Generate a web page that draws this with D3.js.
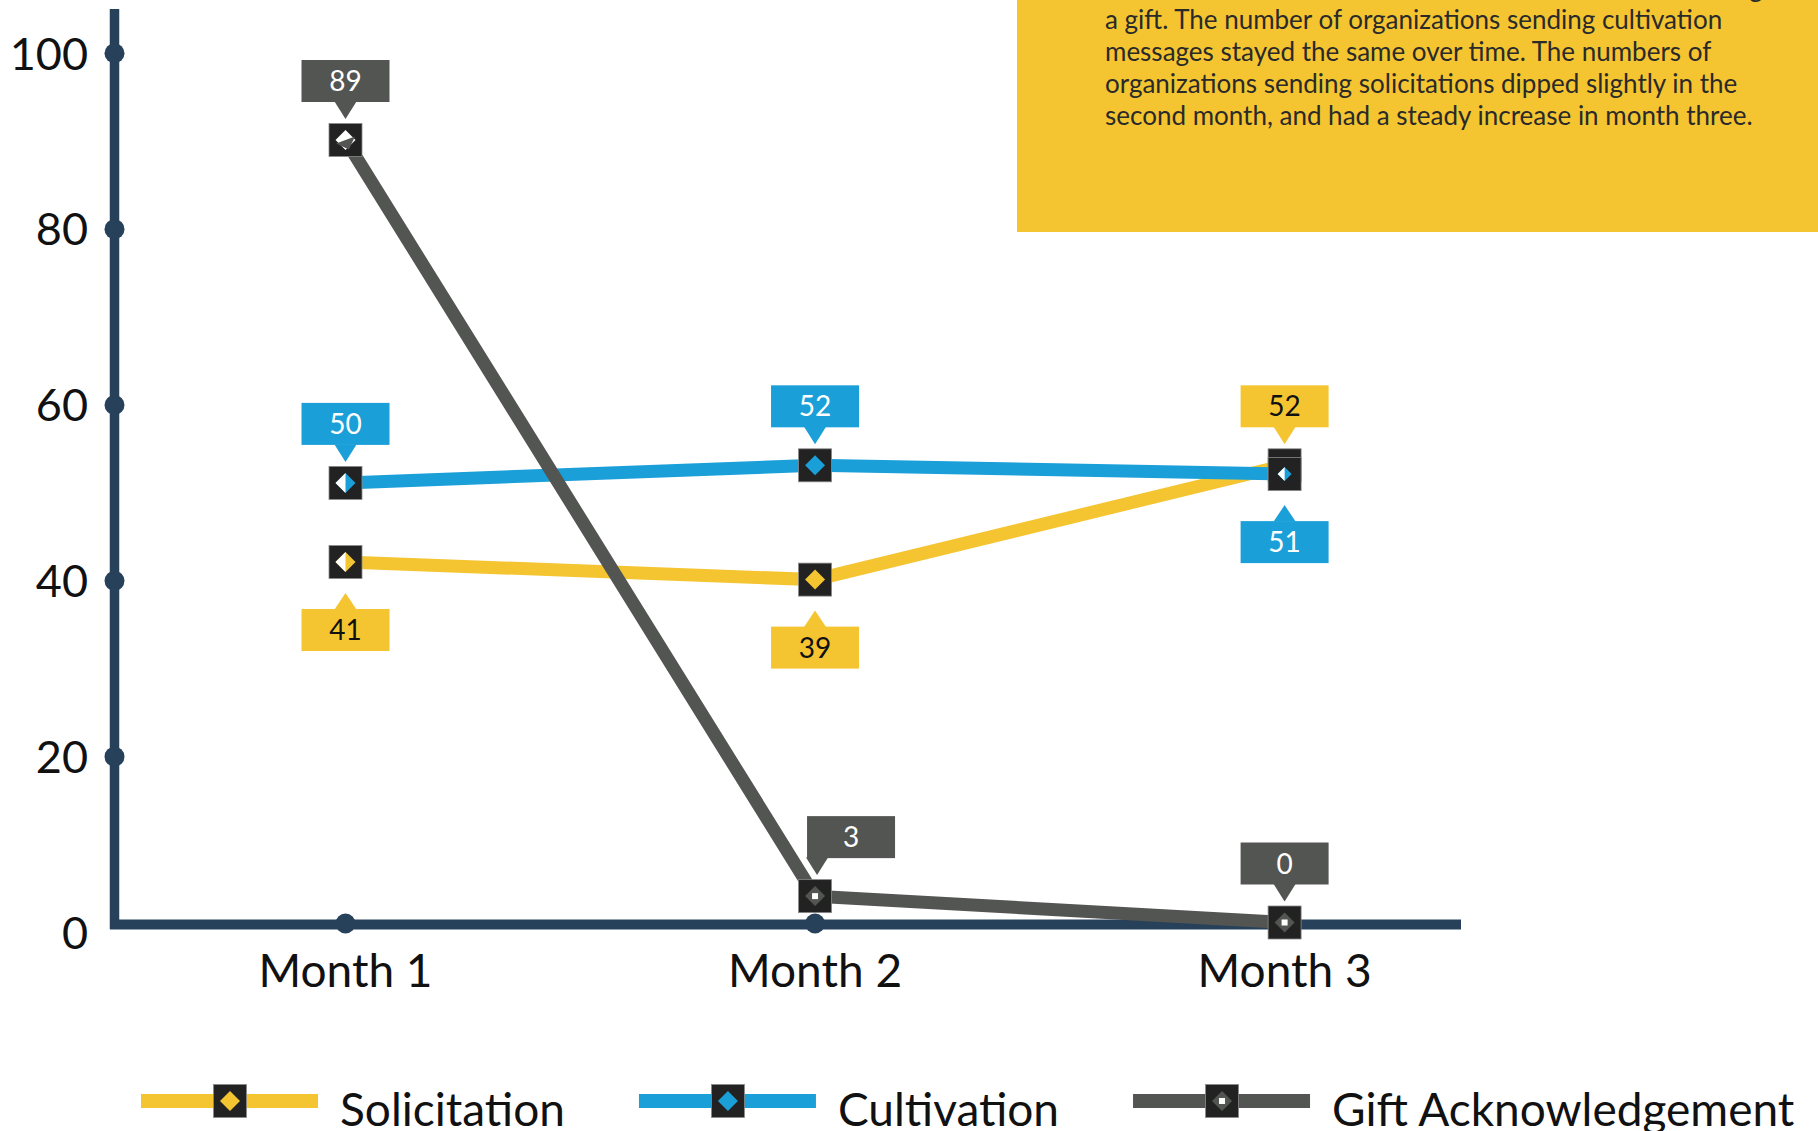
<!DOCTYPE html>
<meta charset="utf-8">
<style>
body { margin: 0; background: #fff; font-family: 'Lato', sans-serif; }
svg { display: block; }
.tick-label { font-size: 45px; fill: #111; }
.month-label { font-size: 46px; fill: #111; }
.callout text { font-size: 28px; }
.legend text { font-size: 46px; fill: #111; }
.note text { font-size: 26px; fill: #2a2a2a; }
</style>
<body>
<svg width="1818" height="1131"></svg>
<script src="https://d3js.org/d3.v7.min.js"></script>
<script>

var months = ["Month 1", "Month 2", "Month 3"];
var seriesNames = ["Solicitation", "Cultivation", "Gift Acknowledgement"];
var solicitation = [41, 39, 52];
var cultivation = [50, 52, 51];
var giftAck = [89, 3, 0];
var yTicks = [0, 20, 40, 60, 80, 100];
var colors = ["#f4c531", "#1a9fd8", "#535552"];
// where the value callout sits for each point
var labelSide = [["below", "below", "above"], ["above", "above", "below"], ["above", "above", "above"]];
var labelShift = [[0, 0, 0], [0, 0, 0], [0, 1, 0]];
var noteLines = [
  "Fewer charities thanked donors as fewer were still making",
  "a gift. The number of organizations sending cultivation",
  "messages stayed the same over time. The numbers of",
  "organizations sending solicitations dipped slightly in the",
  "second month, and had a steady increase in month three."
];

var series = [solicitation, cultivation, giftAck];
var axisColor = "#27415a";
var markColor = "#222222";
var dataShift = -10;

var svg = d3.select("svg");

var y = d3.scaleLinear().domain([0, 100]).range([932.5, 53.3]);
var x = d3.scalePoint().domain(months).range([345.5, 1284.6]);

// yellow note box
var note = svg.append("g").attr("class", "note");
note.append("rect")
  .attr("x", 1017).attr("y", 0)
  .attr("width", 801).attr("height", 232)
  .attr("fill", "#f4c531");
note.selectAll("text")
  .data(noteLines)
  .enter().append("text")
  .attr("x", 1105)
  .attr("y", function(d, i) { return -3 + i * 32; })
  .text(function(d) { return d; });

// y axis
svg.append("line")
  .attr("x1", 114.5).attr("x2", 114.5)
  .attr("y1", 9).attr("y2", 929)
  .attr("stroke", axisColor).attr("stroke-width", 9.5);

svg.selectAll(".ydot")
  .data(yTicks.filter(function(t) { return t > 0; }))
  .enter().append("circle")
  .attr("class", "ydot")
  .attr("cx", 114.5)
  .attr("cy", function(d) { return y(d); })
  .attr("r", 10)
  .attr("fill", axisColor);

svg.selectAll(".tick-label")
  .data(yTicks)
  .enter().append("text")
  .attr("class", "tick-label")
  .attr("x", 88)
  .attr("y", function(d) { return y(d); })
  .attr("dy", "0.36em")
  .attr("text-anchor", "end")
  .text(function(d) { return d; });

// x axis
var xAxisY = y(0) - 8;
svg.append("line")
  .attr("x1", 110).attr("x2", 1461)
  .attr("y1", xAxisY).attr("y2", xAxisY)
  .attr("stroke", axisColor).attr("stroke-width", 10);

svg.selectAll(".xdot")
  .data(months)
  .enter().append("circle")
  .attr("class", "xdot")
  .attr("cx", function(d) { return x(d); })
  .attr("cy", xAxisY - 1)
  .attr("r", 10)
  .attr("fill", axisColor);

svg.selectAll(".month-label")
  .data(months)
  .enter().append("text")
  .attr("class", "month-label")
  .attr("x", function(d) { return x(d); })
  .attr("y", y(0) + 54)
  .attr("text-anchor", "middle")
  .text(function(d) { return d; });

// lines
var line = d3.line()
  .x(function(d, i) { return x(months[i]); })
  .y(function(d) { return y(d) + dataShift; });

svg.selectAll(".series-line")
  .data(series)
  .enter().append("path")
  .attr("class", "series-line")
  .attr("d", line)
  .attr("fill", "none")
  .attr("stroke", function(d, i) { return colors[i]; })
  .attr("stroke-width", 13);

function diamond(r) {
  return "M0," + (-r) + "L" + r + ",0L0," + r + "L" + (-r) + ",0Z";
}

function drawMarker(g, si, mi, r) {
  g.append("rect")
    .attr("x", -16.5).attr("y", -16.5)
    .attr("width", 33).attr("height", 33)
    .attr("fill", markColor)
    .attr("stroke", "#8a8a8a").attr("stroke-width", 0.8);
  if (si === 2 && mi === 0) {
    g.append("path").attr("d", diamond(r)).attr("fill", "#fff");
    g.append("path").attr("d", "M" + (-r) + ",0L" + r + ",0L0," + r + "Z")
      .attr("fill", colors[si]).attr("transform", "rotate(-20)");
    return;
  }
  g.append("path").attr("d", diamond(r)).attr("fill", colors[si]);
  if (mi === 0 || (mi === 2 && si < 2)) {
    g.append("path").attr("d", "M0," + (-r) + "L" + (-r) + ",0L0," + r + "Z").attr("fill", "#fff");
  }
  if (si === 2) {
    g.append("rect").attr("x", -3).attr("y", -3).attr("width", 6).attr("height", 6).attr("fill", "#fff");
  }
}

// markers
series.forEach(function(vals, si) {
  vals.forEach(function(v, mi) {
    var g = svg.append("g")
      .attr("transform", "translate(" + x(months[mi]) + "," + (y(v) + dataShift) + ")");
    drawMarker(g, si, mi, (mi === 2 && si < 2) ? 7 : 10);
  });
});

// callouts
series.forEach(function(vals, si) {
  vals.forEach(function(v, mi) {
    var cx = x(months[mi]);
    var cy = y(v) + dataShift;
    var side = labelSide[si][mi];
    var bx = labelShift[si][mi] ? cx - 8 : cx - 44;
    var g = svg.append("g").attr("class", "callout");
    var top, tri;
    if (side === "above") {
      top = cy - 38 - 42;
      var tx = labelShift[si][mi] ? cx + 2 : cx;
      tri = [[tx - 11, cy - 38.5], [tx + 11, cy - 38.5], [tx, cy - 21]];
    } else {
      top = cy + 47;
      tri = [[cx - 11, cy + 47.5], [cx + 11, cy + 47.5], [cx, cy + 31]];
    }
    g.append("rect")
      .attr("x", bx).attr("y", top)
      .attr("width", 88).attr("height", 42)
      .attr("fill", colors[si]);
    g.append("path")
      .attr("d", "M" + tri.join("L") + "Z")
      .attr("fill", colors[si]);
    g.append("text")
      .attr("x", bx + 44).attr("y", top + 21)
      .attr("dy", "0.36em")
      .attr("text-anchor", "middle")
      .attr("fill", si === 0 ? "#111" : "#fff")
      .text(v);
  });
});

// legend
var legend = svg.append("g").attr("class", "legend");
var lx = 141;
seriesNames.forEach(function(name, si) {
  var g = legend.append("g").attr("transform", "translate(" + lx + ",1101)");
  g.append("rect")
    .attr("x", 0).attr("y", -7)
    .attr("width", 177).attr("height", 14)
    .attr("fill", colors[si]);
  var m = g.append("g").attr("transform", "translate(89,0)");
  drawMarker(m, si, 1, 10);
  var t = g.append("text")
    .attr("x", 199).attr("y", 25)
    .text(name);
  lx += 199 + t.node().getComputedTextLength() + 74;
});

</script>
</body>
